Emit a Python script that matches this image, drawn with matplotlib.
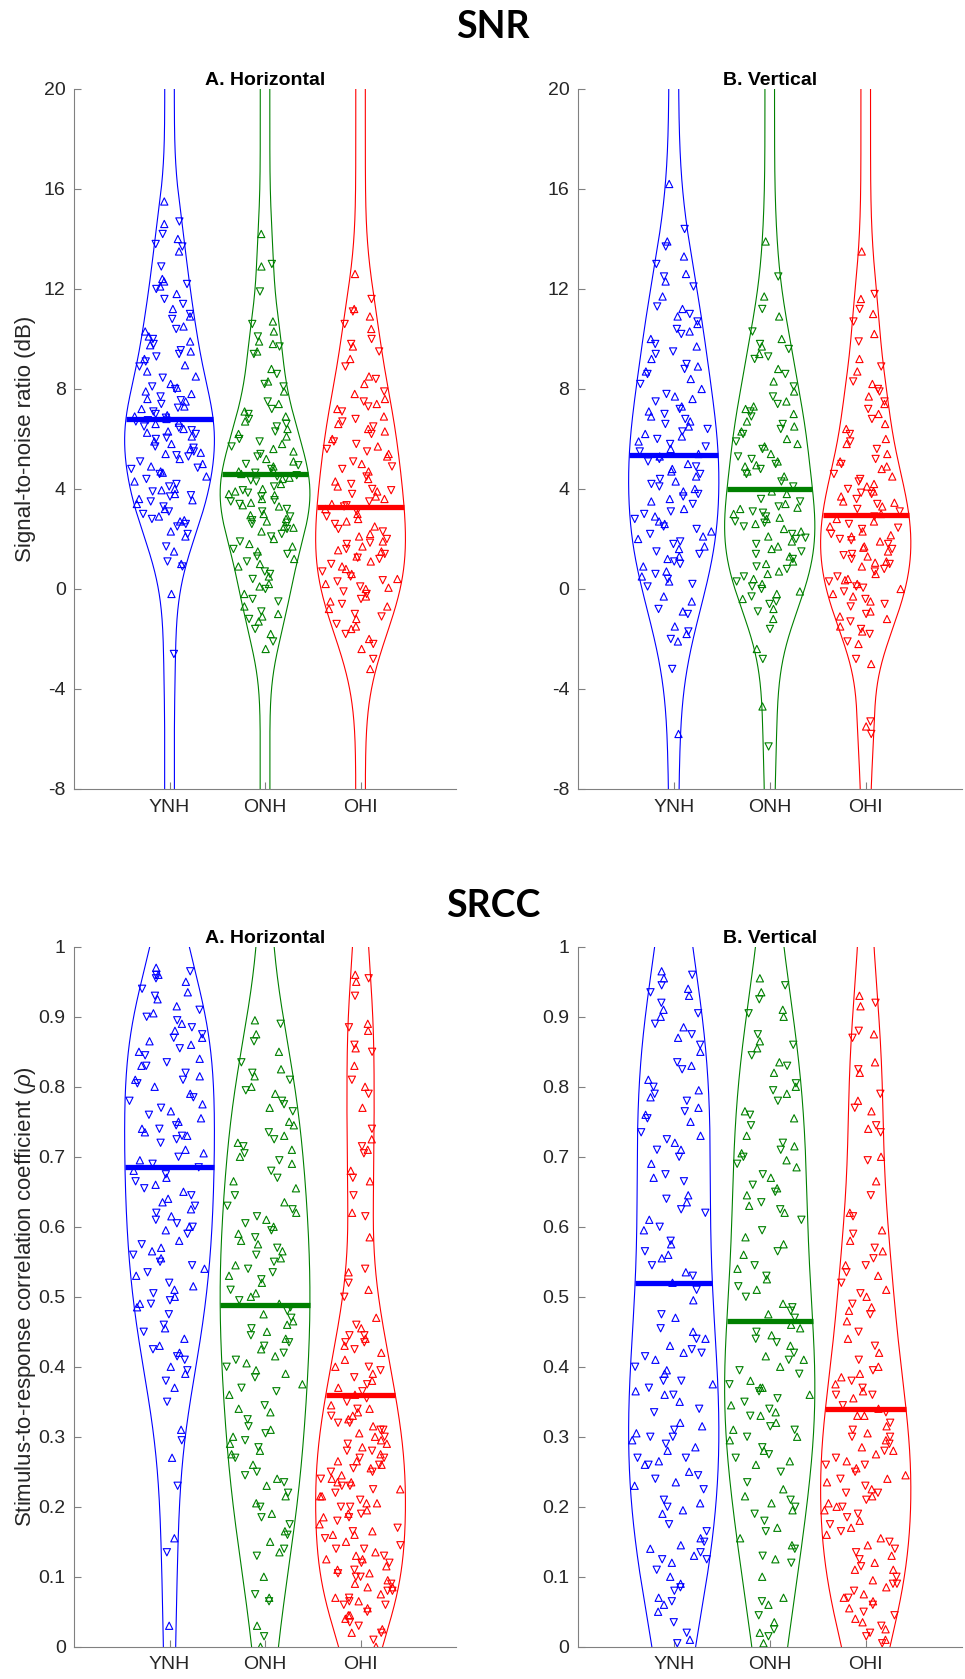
import numpy as np
import matplotlib.pyplot as plt

groups = ['YNH', 'ONH', 'OHI']
colors = ['#0000ff', '#008000', '#ff0000']

# SNR (dB), horizontal
snr_h_ynh = [15.5, 14.7, 14.6, 14.2, 14.0, 13.8, 13.5, 12.9, 12.4, 12.2, 12.1, 12.0, 11.8, 11.4, 11.2,
             11.0, 10.9, 10.8, 10.5, 10.4, 10.1, 10.0, 9.9, 9.8, 9.75, 9.55, 9.5, 9.4, 9.2, 9.1, 8.95,
             8.9, 8.5, 8.45, 8.2, 8.1, 8.05, 8.0, 7.9, 7.7, 7.6, 7.55, 7.5, 7.4, 7.3, 7.25, 7.2, 7.1,
             6.9, 6.85, 6.8, 6.7, 6.6, 6.5, 6.4, 6.35, 6.3, 6.2, 6.1, 6.0, 5.8, 5.7, 5.6, 5.5, 5.4,
             5.3, 5.2, 5.1, 4.9, 4.8, 4.7, 4.6, 4.5, 4.4, 4.3, 4.1, 4.0, 3.9, 3.8, 3.7, 3.6, 3.5, 3.4,
             3.3, 3.2, 3.0, 2.9, 2.8, 2.7, 2.6, 2.3, 2.2, 2.1, 1.7, 1.5, 1.1, 1.0, 0.9, -0.2, -2.6,
             7.8, 7.0, 6.95, 6.75, 6.65, 6.45, 6.25, 6.05, 5.9, 5.65, 5.45, 5.35, 5.0, 4.85, 4.65,
             4.2, 3.95, 3.75, 3.55, 3.1, 2.75, 2.5, 8.7, 9.3, 10.3, 11.6, 12.3, 13.7]
snr_h_onh = [14.2, 13.0, 12.9, 11.9, 10.7, 10.6, 10.3, 10.1, 9.9, 9.7, 9.5, 9.4, 8.8, 8.6, 8.3, 8.1,
             7.9, 7.5, 7.4, 7.2, 7.1, 7.0, 6.9, 6.8, 6.7, 6.5, 6.4, 6.3, 6.2, 6.0, 5.8, 5.7, 5.5, 5.3,
             5.2, 5.0, 4.9, 4.8, 4.7, 4.65, 4.6, 4.5, 4.4, 4.3, 4.2, 4.1, 3.9, 3.85, 3.8, 3.7, 3.6,
             3.5, 3.45, 3.4, 3.3, 3.2, 3.0, 2.9, 2.8, 2.75, 2.7, 2.6, 2.5, 2.4, 2.3, 2.2, 2.0, 1.9,
             1.8, 1.6, 1.5, 1.3, 1.2, 1.1, 0.9, 0.7, 0.5, 0.4, 0.2, 0.0, -0.2, -0.4, -0.7, -0.9,
             -1.1, -1.2, -1.3, -1.6, -1.8, -2.1, -2.4,
             6.6, 6.1, 5.9, 5.6, 5.4, 5.1, 4.95, 4.75, 4.55, 4.45, 4.35, 4.0, 3.95, 3.75, 3.55,
             3.35, 3.1, 2.95, 2.65, 2.45, 2.1, 1.7, 1.4, 1.0, 0.6, 0.1, -0.5, -1.0, 8.2, 9.8]
snr_h_ohi = [12.6, 11.6, 11.2, 11.1, 10.9, 10.6, 10.4, 9.8, 9.7, 9.5, 9.2, 8.9, 8.5, 8.4, 8.2, 7.9,
             7.6, 7.5, 7.4, 7.3, 7.2, 7.1, 6.9, 6.7, 6.6, 6.5, 6.3, 6.2, 6.0, 5.9, 5.7, 5.6, 5.4, 5.1,
             5.0, 4.8, 4.7, 4.5, 4.3, 4.2, 4.1, 4.0, 3.9, 3.8, 3.7, 3.5, 3.4, 3.3, 3.2, 3.1, 3.0,
             2.9, 2.7, 2.6, 2.5, 2.3, 2.1, 2.0, 1.9, 1.8, 1.7, 1.6, 1.5, 1.4, 1.3, 1.2, 1.1, 1.0,
             0.9, 0.7, 0.6, 0.5, 0.4, 0.3, 0.2, 0.1, 0.0, -0.1, -0.3, -0.4, -0.5, -0.6, -0.8, -1.0,
             -1.2, -1.4, -1.6, -1.8, -2.0, -2.2, -2.4, -2.8, -3.2,
             6.8, 6.4, 5.8, 5.3, 4.9, 4.4, 3.95, 3.6, 3.35, 2.8, 2.4, 2.2, 1.85, 1.55, 1.25, 0.8,
             0.35, 0.05, -0.2, -0.7, -1.1, -1.5, 5.5, 7.8, 10.0]

# SNR (dB), vertical
snr_v_ynh = [16.2, 14.4, 13.9, 13.7, 13.3, 13.0, 12.6, 12.5, 12.3, 12.1, 11.7, 11.3, 11.2, 11.0, 10.9,
             10.7, 10.6, 10.4, 10.3, 10.2, 10.0, 9.8, 9.7, 9.4, 9.2, 9.0, 8.9, 8.8, 8.7, 8.6, 8.4,
             8.2, 8.0, 7.8, 7.7, 7.5, 7.3, 7.2, 7.1, 7.0, 6.9, 6.8, 6.7, 6.6, 6.5, 6.3, 6.2, 6.0,
             5.9, 5.8, 5.6, 5.5, 5.3, 5.1, 5.0, 4.9, 4.8, 4.6, 4.5, 4.4, 4.3, 4.1, 4.0, 3.8, 3.6,
             3.4, 3.2, 3.0, 2.9, 2.8, 2.6, 2.5, 2.3, 2.2, 2.0, 1.8, 1.6, 1.5, 1.3, 1.1, 0.9, 0.6,
             0.5, 0.4, 0.3, 0.1, -0.3, -0.8, -0.9, -1.0, -1.5, -1.7, -1.8, -2.0, -2.1, -3.2, -5.8,
             6.4, 6.1, 5.7, 5.4, 5.2, 4.7, 4.2, 3.9, 3.7, 3.5, 3.1, 2.7, 2.4, 2.1, 1.9, 1.7, 1.4,
             1.2, 1.0, 0.7, 0.2, -0.5, 9.5, 7.6]
snr_v_onh = [13.9, 12.5, 11.7, 11.2, 10.9, 10.3, 10.0, 9.8, 9.7, 9.6, 9.4, 9.2, 8.8, 8.6, 8.3, 8.1,
             7.9, 7.7, 7.5, 7.4, 7.2, 7.1, 7.0, 6.9, 6.7, 6.6, 6.5, 6.4, 6.3, 6.2, 6.0, 5.9, 5.8,
             5.6, 5.4, 5.2, 5.1, 5.0, 4.9, 4.8, 4.7, 4.3, 3.8, 3.6, 3.4, 3.3, 3.2, 3.1, 3.0, 2.9,
             2.8, 2.7, 2.6, 2.5, 2.4, 2.2, 2.1, 2.0, 1.9, 1.8, 1.6, 1.4, 1.3, 1.2, 1.0, 0.8, 0.7,
             0.5, 0.4, 0.3, 0.2, 0.0, -0.1, -0.3, -0.4, -0.6, -0.8, -0.9, -1.2, -1.6, -2.4, -2.8,
             -4.7, -6.3,
             5.7, 5.3, 4.95, 4.6, 4.5, 4.1, 3.9, 3.5, 3.25, 3.05, 2.85, 2.65, 2.3, 2.05, 1.7, 1.5,
             1.1, 0.9, 0.6, 0.1, -0.2, -0.5, 7.3, 9.3]
snr_v_ohi = [13.5, 11.8, 11.6, 11.2, 11.0, 10.7, 10.2, 9.9, 9.2, 8.9, 8.7, 8.3, 8.2, 8.0, 7.7, 7.5,
             7.4, 7.2, 7.0, 6.8, 6.4, 6.2, 6.0, 5.9, 5.8, 5.6, 5.4, 5.2, 5.1, 5.0, 4.8, 4.6, 4.5,
             4.3, 4.1, 4.0, 3.9, 3.8, 3.7, 3.6, 3.5, 3.4, 3.3, 3.2, 3.0, 2.9, 2.8, 2.6, 2.5, 2.4,
             2.3, 2.2, 2.1, 2.0, 1.9, 1.8, 1.7, 1.6, 1.5, 1.4, 1.3, 1.2, 1.1, 1.0, 0.9, 0.8, 0.6,
             0.5, 0.4, 0.3, 0.2, 0.1, 0.0, -0.1, -0.2, -0.4, -0.5, -0.7, -0.9, -1.0, -1.1, -1.3,
             -1.5, -1.6, -1.7, -2.1, -2.2, -2.8, -3.0, -5.3, -5.5, -5.8,
             4.9, 4.4, 4.2, 3.85, 3.45, 3.1, 2.7, 2.45, 2.15, 1.95, 1.65, 1.35, 1.05, 0.7, 0.35,
             0.05, -0.3, -0.6, -1.2, -1.8, 6.6, 7.9]

# SRCC, horizontal
srcc_h_ynh = [0.97, 0.965, 0.96, 0.96, 0.95, 0.94, 0.935, 0.93, 0.925, 0.91, 0.905, 0.9, 0.89, 0.885,
              0.88, 0.875, 0.87, 0.87, 0.86, 0.855, 0.85, 0.845, 0.84, 0.83, 0.83, 0.82, 0.815, 0.81,
              0.81, 0.805, 0.79, 0.78, 0.775, 0.77, 0.765, 0.76, 0.75, 0.745, 0.74, 0.74, 0.735, 0.73,
              0.73, 0.72, 0.71, 0.70, 0.695, 0.69, 0.68, 0.675, 0.67, 0.665, 0.66, 0.655, 0.65, 0.645,
              0.64, 0.63, 0.625, 0.62, 0.615, 0.61, 0.60, 0.60, 0.595, 0.59, 0.58, 0.575, 0.565, 0.56,
              0.555, 0.55, 0.54, 0.535, 0.53, 0.52, 0.51, 0.505, 0.50, 0.495, 0.49, 0.49, 0.485, 0.46,
              0.455, 0.45, 0.43, 0.425, 0.42, 0.41, 0.40, 0.395, 0.39, 0.38, 0.37, 0.35, 0.31, 0.295,
              0.27, 0.23, 0.155, 0.135, 0.03,
              0.955, 0.915, 0.895, 0.865, 0.835, 0.8, 0.785, 0.755, 0.725, 0.705, 0.685, 0.635, 0.605,
              0.57, 0.545, 0.515, 0.475, 0.44, 0.415]
srcc_h_onh = [0.895, 0.89, 0.875, 0.865, 0.85, 0.835, 0.825, 0.82, 0.815, 0.81, 0.80, 0.795, 0.79,
              0.775, 0.77, 0.765, 0.745, 0.735, 0.73, 0.725, 0.72, 0.715, 0.71, 0.705, 0.70, 0.695,
              0.69, 0.67, 0.665, 0.645, 0.635, 0.63, 0.62, 0.615, 0.61, 0.605, 0.60, 0.595, 0.59,
              0.585, 0.58, 0.57, 0.565, 0.56, 0.555, 0.55, 0.545, 0.54, 0.53, 0.525, 0.52, 0.51, 0.50,
              0.495, 0.49, 0.48, 0.475, 0.47, 0.46, 0.455, 0.45, 0.445, 0.44, 0.435, 0.425, 0.42,
              0.415, 0.41, 0.405, 0.40, 0.395, 0.385, 0.375, 0.37, 0.36, 0.345, 0.335, 0.325, 0.31,
              0.305, 0.30, 0.295, 0.29, 0.285, 0.28, 0.27, 0.26, 0.245, 0.24, 0.235, 0.23, 0.22,
              0.215, 0.20, 0.19, 0.185, 0.165, 0.16, 0.15, 0.14, 0.135, 0.13, 0.10, 0.075, 0.07,
              0.065, 0.03, 0.015, 0.0,
              0.78, 0.75, 0.68, 0.655, 0.625, 0.575, 0.535, 0.505, 0.485, 0.465, 0.43, 0.39, 0.365,
              0.34, 0.315, 0.275, 0.25, 0.205, 0.175]
srcc_h_ohi = [0.96, 0.955, 0.95, 0.93, 0.89, 0.885, 0.88, 0.86, 0.855, 0.85, 0.83, 0.81, 0.80, 0.79,
              0.77, 0.74, 0.725, 0.715, 0.71, 0.705, 0.68, 0.67, 0.665, 0.645, 0.62, 0.615, 0.585,
              0.54, 0.535, 0.52, 0.51, 0.50, 0.47, 0.46, 0.455, 0.445, 0.44, 0.435, 0.43, 0.425, 0.41,
              0.40, 0.39, 0.385, 0.38, 0.375, 0.37, 0.35, 0.345, 0.34, 0.335, 0.33, 0.325, 0.32,
              0.315, 0.31, 0.305, 0.30, 0.295, 0.29, 0.285, 0.28, 0.275, 0.27, 0.265, 0.26, 0.255,
              0.25, 0.245, 0.24, 0.235, 0.23, 0.225, 0.22, 0.215, 0.21, 0.205, 0.20, 0.195, 0.19,
              0.185, 0.18, 0.175, 0.165, 0.16, 0.155, 0.15, 0.14, 0.135, 0.13, 0.125, 0.12, 0.115,
              0.11, 0.105, 0.10, 0.095, 0.09, 0.085, 0.08, 0.075, 0.07, 0.065, 0.06, 0.055, 0.05,
              0.04, 0.03, 0.02, 0.01, 0.0,
              0.445, 0.42, 0.395, 0.36, 0.355, 0.33, 0.31, 0.29, 0.27, 0.26, 0.25, 0.24, 0.23, 0.215,
              0.2, 0.19, 0.17, 0.16, 0.145, 0.13, 0.12, 0.11, 0.1, 0.09, 0.08, 0.07, 0.06, 0.045,
              0.035, 0.025,
              0.435, 0.40, 0.365, 0.34, 0.32, 0.30, 0.28, 0.265, 0.255, 0.235, 0.225, 0.205, 0.185,
              0.165, 0.14, 0.125, 0.105, 0.085, 0.065, 0.045, 0.02]

# SRCC, vertical
srcc_v_ynh = [0.965, 0.96, 0.955, 0.945, 0.94, 0.935, 0.93, 0.92, 0.91, 0.905, 0.90, 0.89, 0.885,
              0.875, 0.87, 0.86, 0.85, 0.835, 0.83, 0.825, 0.81, 0.80, 0.795, 0.79, 0.785, 0.78,
              0.77, 0.765, 0.76, 0.755, 0.75, 0.735, 0.73, 0.725, 0.72, 0.71, 0.71, 0.70, 0.69,
              0.675, 0.67, 0.665, 0.645, 0.64, 0.635, 0.625, 0.61, 0.60, 0.595, 0.58, 0.575, 0.565,
              0.555, 0.545, 0.535, 0.53, 0.52, 0.51, 0.495, 0.475, 0.47, 0.455, 0.45, 0.44, 0.43,
              0.425, 0.42, 0.415, 0.41, 0.40, 0.39, 0.38, 0.375, 0.37, 0.365, 0.36, 0.35, 0.335,
              0.32, 0.31, 0.305, 0.30, 0.295, 0.29, 0.28, 0.27, 0.265, 0.26, 0.25, 0.245, 0.235,
              0.225, 0.205, 0.20, 0.195, 0.175, 0.155, 0.15, 0.145, 0.135, 0.13, 0.125, 0.12, 0.11,
              0.09, 0.085, 0.07, 0.065, 0.06, 0.02, 0.01, 0.005,
              0.44, 0.42, 0.395, 0.38, 0.36, 0.34, 0.315, 0.3, 0.285, 0.27, 0.26, 0.24, 0.23, 0.21,
              0.19, 0.165, 0.14, 0.125, 0.1, 0.08, 0.05, 0.035, 0.56, 0.62]
srcc_v_onh = [0.955, 0.945, 0.935, 0.925, 0.91, 0.905, 0.90, 0.875, 0.865, 0.86, 0.855, 0.845, 0.835,
              0.83, 0.82, 0.805, 0.80, 0.795, 0.79, 0.78, 0.765, 0.76, 0.755, 0.745, 0.73, 0.72,
              0.715, 0.71, 0.705, 0.70, 0.695, 0.69, 0.685, 0.675, 0.67, 0.66, 0.655, 0.65, 0.645,
              0.635, 0.63, 0.625, 0.62, 0.595, 0.575, 0.565, 0.56, 0.545, 0.54, 0.53, 0.525, 0.515,
              0.51, 0.50, 0.49, 0.48, 0.475, 0.47, 0.46, 0.45, 0.445, 0.44, 0.43, 0.42, 0.415, 0.41,
              0.40, 0.395, 0.38, 0.375, 0.37, 0.365, 0.36, 0.35, 0.345, 0.34, 0.335, 0.33, 0.32,
              0.315, 0.31, 0.30, 0.295, 0.285, 0.28, 0.27, 0.26, 0.235, 0.225, 0.21, 0.205, 0.20,
              0.195, 0.18, 0.17, 0.165, 0.145, 0.14, 0.125, 0.12, 0.07, 0.065, 0.06, 0.045, 0.035,
              0.025, 0.02, 0.015, 0.005,
              0.485, 0.455, 0.435, 0.41, 0.39, 0.37, 0.355, 0.33, 0.31, 0.3, 0.275, 0.265, 0.25,
              0.215, 0.19, 0.155, 0.13, 0.1, 0.61, 0.585]
srcc_v_ohi = [0.93, 0.92, 0.915, 0.88, 0.875, 0.87, 0.835, 0.825, 0.82, 0.79, 0.78, 0.77, 0.765, 0.745,
              0.74, 0.735, 0.70, 0.695, 0.665, 0.645, 0.62, 0.615, 0.595, 0.59, 0.58, 0.57, 0.565,
              0.555, 0.545, 0.535, 0.53, 0.52, 0.51, 0.505, 0.50, 0.49, 0.485, 0.475, 0.465, 0.45,
              0.44, 0.43, 0.42, 0.41, 0.40, 0.395, 0.385, 0.38, 0.375, 0.37, 0.365, 0.36, 0.355,
              0.345, 0.34, 0.335, 0.33, 0.32, 0.315, 0.31, 0.305, 0.30, 0.295, 0.29, 0.285, 0.28,
              0.275, 0.27, 0.265, 0.26, 0.255, 0.25, 0.245, 0.24, 0.235, 0.23, 0.225, 0.22, 0.215,
              0.21, 0.205, 0.20, 0.195, 0.19, 0.18, 0.175, 0.17, 0.165, 0.155, 0.15, 0.145, 0.14,
              0.13, 0.125, 0.12, 0.115, 0.11, 0.10, 0.095, 0.09, 0.085, 0.08, 0.075, 0.07, 0.065,
              0.06, 0.055, 0.05, 0.04, 0.03, 0.025, 0.02, 0.01, 0.005,
              0.39, 0.36, 0.33, 0.3, 0.28, 0.26, 0.24, 0.22, 0.2, 0.185, 0.16, 0.135, 0.11, 0.09,
              0.07, 0.045, 0.035, 0.015, 0.48, 0.545]

# group means (thick bars)
snr_h_mean = [6.79, 4.59, 3.29]
snr_v_mean = [5.35, 4.01, 2.97]
srcc_h_mean = [0.685, 0.488, 0.36]
srcc_v_mean = [0.52, 0.465, 0.339]

plt.rcParams['font.family'] = ['Liberation Sans', 'DejaVu Sans']
plt.rcParams['mathtext.fontset'] = 'custom'
plt.rcParams['mathtext.it'] = 'Liberation Sans:italic'
plt.rcParams['mathtext.rm'] = 'Liberation Sans'
plt.rcParams['axes.unicode_minus'] = False

WMAX = 0.47   # max half width of a violin (x units)
NECK = 0.05   # thin tail half width


def density(vals, grid):
    # gaussian kernel density, ksdensity-like bandwidth
    v = np.asarray(vals, float)
    sig = np.median(np.abs(v - np.median(v))) / 0.6745
    bw = sig * (4.0 / (3 * len(v))) ** 0.2
    d = np.exp(-0.5 * ((grid[:, None] - v[None, :]) / bw) ** 2).sum(axis=1)
    return d / d.max()


def violins(ax, data, means, grid):
    for k, (vals, m) in enumerate(zip(data, means)):
        pos = k + 1
        col = colors[k]
        hw = NECK + (WMAX - NECK) * density(vals, grid)
        ax.plot(pos + hw, grid, color=col, lw=0.8, zorder=2)
        ax.plot(pos - hw, grid, color=col, lw=0.8, zorder=2)
        y = np.asarray(vals, float)
        i = np.arange(len(y))
        u = 2 * ((0.309017 * i * i + 0.4142 * i + 0.21) % 1.0) - 1
        x = pos + 0.93 * u * np.interp(y, grid, hw)
        up = i % 2 == 0
        ax.scatter(x[up], y[up], s=27, marker='^', facecolors='none', edgecolors=col,
                   linewidths=0.8, zorder=3)
        ax.scatter(x[~up], y[~up], s=27, marker='v', facecolors='none', edgecolors=col,
                   linewidths=0.8, zorder=3)
        wm = np.interp(m, grid, hw)
        ax.plot([pos - wm, pos + wm], [m, m], color=col, lw=3.8, solid_capstyle='butt', zorder=4)


def style(ax):
    for s in ['top', 'right']:
        ax.spines[s].set_visible(False)
    for s in ['left', 'bottom']:
        ax.spines[s].set_color('#808080')
        ax.spines[s].set_linewidth(0.8)
    ax.set_xlim(0, 4)
    ax.set_xticks([1, 2, 3])
    ax.set_xticklabels(groups)
    ax.tick_params(direction='in', length=5, width=0.8, color='#808080',
                   labelcolor='#262626', labelsize=14)
    ax.tick_params(axis='x', pad=7)
    ax.tick_params(axis='y', pad=6)


fig = plt.figure(figsize=(9.65, 16.79), dpi=100)
ax_tl = fig.add_axes([0.0767, 0.5301, 0.3959, 0.4169])
ax_tr = fig.add_axes([0.5987, 0.5301, 0.3979, 0.4169])
ax_bl = fig.add_axes([0.0767, 0.0192, 0.3959, 0.4169])
ax_br = fig.add_axes([0.5987, 0.0192, 0.3979, 0.4169])

snr_grid = np.linspace(-40, 50, 3000)
srcc_grid = np.linspace(-1.0, 2.0, 3000)

violins(ax_tl, [snr_h_ynh, snr_h_onh, snr_h_ohi], snr_h_mean, snr_grid)
violins(ax_tr, [snr_v_ynh, snr_v_onh, snr_v_ohi], snr_v_mean, snr_grid)
violins(ax_bl, [srcc_h_ynh, srcc_h_onh, srcc_h_ohi], srcc_h_mean, srcc_grid)
violins(ax_br, [srcc_v_ynh, srcc_v_onh, srcc_v_ohi], srcc_v_mean, srcc_grid)

for ax in [ax_tl, ax_tr]:
    style(ax)
    ax.set_ylim(-8, 20)
    ax.set_yticks(np.arange(-8, 21, 4))

for ax in [ax_bl, ax_br]:
    style(ax)
    ax.set_ylim(0, 1)
    ticks = np.round(np.arange(0, 1.01, 0.1), 1)
    ax.set_yticks(ticks)
    ax.set_yticklabels(['0'] + ['%.1f' % t for t in ticks[1:-1]] + ['1'])

ax_tl.set_title('A. Horizontal', fontsize=14, fontweight='bold', pad=3)
ax_tr.set_title('B. Vertical', fontsize=14, fontweight='bold', pad=3)
ax_bl.set_title('A. Horizontal', fontsize=14, fontweight='bold', pad=3)
ax_br.set_title('B. Vertical', fontsize=14, fontweight='bold', pad=3)

ax_tl.set_ylabel('Signal-to-noise ratio (dB)', fontsize=16, color='#262626', va='center')
ax_tl.yaxis.set_label_coords(-0.128, 0.5)
ax_bl.set_ylabel(r'Stimulus-to-response correlation coefficient ($\it{\rho}$)', fontsize=16,
                 color='#262626', va='center')
ax_bl.yaxis.set_label_coords(-0.128, 0.5)

fig.text(0.511, 0.9774, 'SNR', family=['Lato', 'DejaVu Sans'], fontweight='bold', fontsize=27,
         ha='center', va='baseline')
fig.text(0.511, 0.4538, 'SRCC', family=['Lato', 'DejaVu Sans'], fontweight='bold', fontsize=27,
         ha='center', va='baseline')

fig.savefig('out.png', dpi=100)
